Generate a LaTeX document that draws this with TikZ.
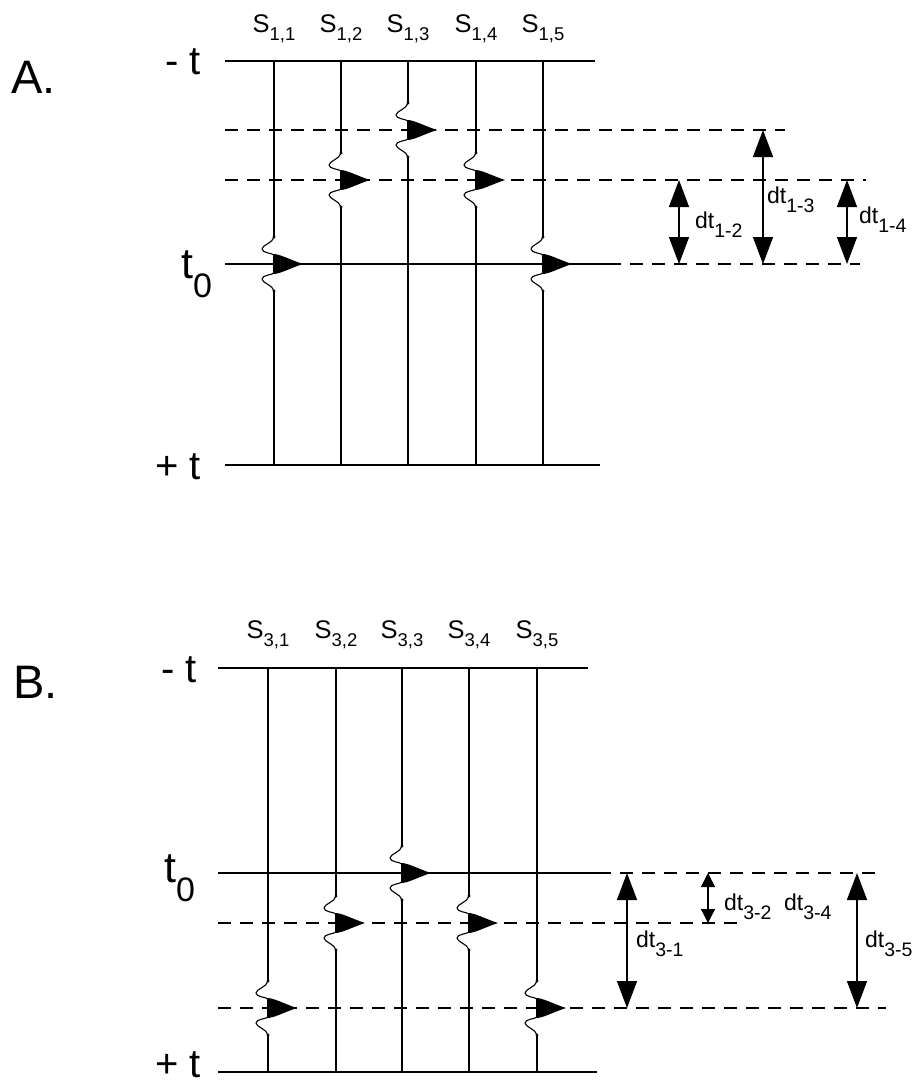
\documentclass[tikz,border=0pt]{standalone}
\usepackage{fontspec}
\setmainfont{Liberation Sans}
\usetikzlibrary{arrows.meta}
\tikzset{
  axisline/.style={line width=1.6pt},
  traceline/.style={line width=1.4pt},
  dline/.style={line width=1.6pt, dash pattern=on 13pt off 9pt},
  wig/.style={line width=1.1pt},
  dimarrow/.style={line width=1.4pt, {Triangle[width=20pt,length=27pt]}-{Triangle[width=20pt,length=27pt]}},
  dimsmall/.style={line width=1.2pt, {Triangle[width=14pt,length=14pt]}-{Triangle[width=14pt,length=14pt]}},
  lbl/.style={inner sep=0pt, anchor=base west},
  slabel/.style={inner sep=0pt, anchor=base},
}
\newcommand\slbl[1]{\fontsize{25.5pt}{25.5pt}\selectfont S\raisebox{-8pt}{\fontsize{18.5pt}{18.5pt}\selectfont #1}}
\newcommand\dtl[1]{\fontsize{23pt}{23pt}\selectfont dt\raisebox{-9.5pt}{\fontsize{19.5pt}{19.5pt}\selectfont #1}}
\newcommand\tzero{\fontsize{43pt}{43pt}\selectfont t\raisebox{-19pt}{\fontsize{34pt}{34pt}\selectfont 0}}
\newcommand\axlbl[1]{\fontsize{40pt}{40pt}\selectfont #1}
\newcommand\wlet[2]{%
  \begin{scope}[shift={(#1,#2)}]
    \draw[wig] (0,-27) .. controls (-1,-21) and (-12,-19) .. (-12,-15) .. controls (-12,-11) and (-2,-11) .. (0,-9);
    \fill (-1,-10) .. controls (6,-10) and (14,-5) .. (29,0) .. controls (14,5) and (6,10) .. (-1,10) -- cycle;
    \draw[wig] (0,9) .. controls (-2,11) and (-12,11) .. (-12,15) .. controls (-12,19) and (-1,21) .. (0,27);
    \fill (0,-27) circle (1.7);
    \fill (0,27) circle (1.7);
  \end{scope}}
\newcommand\trc[4]{% x, top, bottom, centre
  \draw[traceline] (#1,#2) -- (#1,#4-27);
  \draw[traceline] (#1,#4+27) -- (#1,#3);
  \wlet{#1}{#4}}
\begin{document}
\begin{tikzpicture}[x=1pt,y=-1pt]
\useasboundingbox (0,0) rectangle (917,1087);
\fill[white] (0,0) rectangle (917,1087);

% ---------- Panel A ----------
\node[lbl] (A) at (11,93) {\fontsize{47pt}{47pt}\selectfont A.};
\node[lbl] (Amt) at (165,74) {\axlbl{- t}};
\node[lbl] (Apt) at (155,479) {\axlbl{+ t}};
\node[lbl] (At0) at (181,278) {\tzero};

\draw[axisline] (225,61) -- (595,61);
\draw[axisline] (225,465) -- (600,465);
\draw[axisline] (225,264) -- (608,264);
\draw[dline] (608,264) -- (860,264);
\draw[dline] (225,130) -- (785,130);
\draw[dline] (225,180) -- (866,180);

\trc{274}{61}{465}{264}
\trc{341}{61}{465}{180}
\trc{408}{61}{465}{130}
\trc{476}{61}{465}{180}
\trc{543}{61}{465}{264}

\node[slabel] (s11) at (274,32) {\slbl{1,1}};
\node[slabel] (s12) at (341,32) {\slbl{1,2}};
\node[slabel] (s13) at (408,32) {\slbl{1,3}};
\node[slabel] (s14) at (476,32) {\slbl{1,4}};
\node[slabel] (s15) at (543,32) {\slbl{1,5}};

\coordinate (a12t) at (679,180); \coordinate (a12b) at (679,264);
\coordinate (a13t) at (763,130); \coordinate (a13b) at (763,264);
\coordinate (a14t) at (847,180); \coordinate (a14b) at (847,264);
\draw[dimarrow] (a12t) -- (a12b);
\draw[dimarrow] (a13t) -- (a13b);
\draw[dimarrow] (a14t) -- (a14b);
\node[lbl] (d12) at (695,228) {\dtl{1-2}};
\node[lbl] (d13) at (767,203) {\dtl{1-3}};
\node[lbl] (d14) at (859,223) {\dtl{1-4}};

% ---------- Panel B ----------
\node[lbl] (B) at (13,698) {\fontsize{47pt}{47pt}\selectfont B.};
\node[lbl] (Bmt) at (161,682) {\axlbl{- t}};
\node[lbl] (Bpt) at (155,1077) {\axlbl{+ t}};
\node[lbl] (Bt0) at (164,882) {\tzero};

\draw[axisline] (218,668) -- (588,668);
\draw[axisline] (218,1072) -- (597,1072);
\draw[axisline] (218,873) -- (598,873);
\draw[dline] (598,873) -- (880,873);
\draw[dline] (218,923) -- (740,923);
\draw[dline] (218,1008) -- (886,1008);

\trc{268}{668}{1072}{1008}
\trc{336}{668}{1072}{923}
\trc{402}{668}{1072}{873}
\trc{469}{668}{1072}{923}
\trc{537}{668}{1072}{1008}

\node[slabel] (s31) at (268,638) {\slbl{3,1}};
\node[slabel] (s32) at (336,638) {\slbl{3,2}};
\node[slabel] (s33) at (402,638) {\slbl{3,3}};
\node[slabel] (s34) at (469,638) {\slbl{3,4}};
\node[slabel] (s35) at (537,638) {\slbl{3,5}};

\coordinate (b31t) at (627,873); \coordinate (b31b) at (627,1008);
\coordinate (b32t) at (708,873); \coordinate (b32b) at (708,923);
\coordinate (b35t) at (857,873); \coordinate (b35b) at (857,1008);
\draw[dimarrow] (b31t) -- (b31b);
\draw[dimsmall] (b32t) -- (b32b);
\draw[dimarrow] (b35t) -- (b35b);
\node[lbl] (d31) at (636,947) {\dtl{3-1}};
\node[lbl] (d32) at (724,910) {\dtl{3-2}};
\node[lbl] (d34) at (784,910) {\dtl{3-4}};
\node[lbl] (d35) at (865,947) {\dtl{3-5}};
\end{tikzpicture}
\end{document}
